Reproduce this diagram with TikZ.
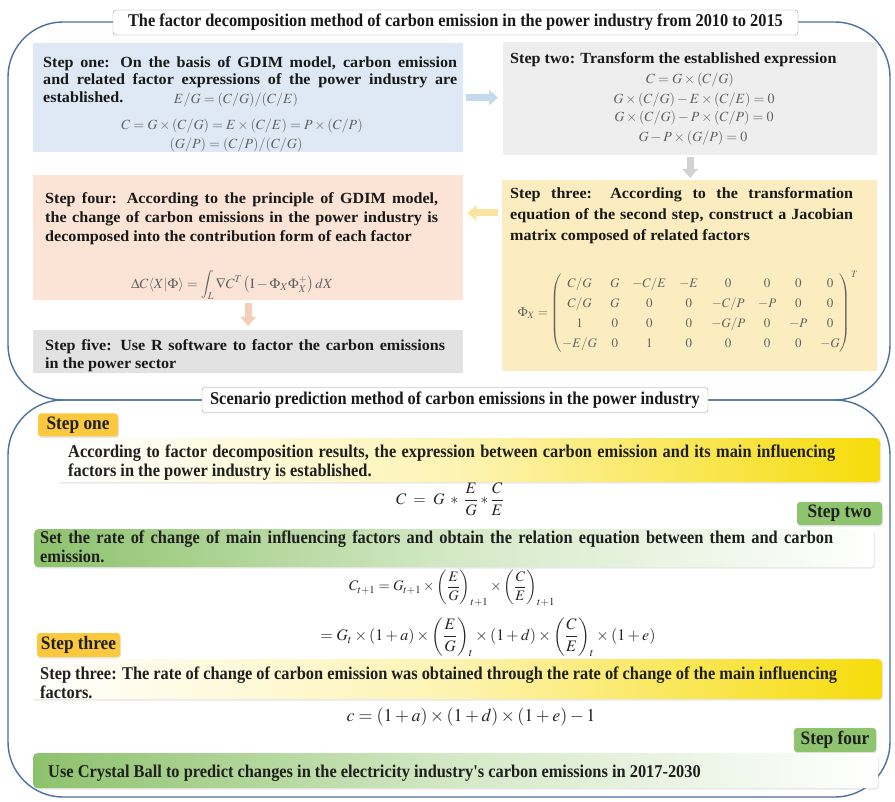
\documentclass[tikz,border=0pt]{standalone}
\usepackage{amsmath}
\usepackage{mathptmx}
\usepackage{fontspec}
\setmainfont{Liberation Serif}
\newfontfamily\condfont{Liberation Serif}[FakeStretch=0.91]
\newfontfamily\wfont{Liberation Serif}[FakeStretch=1.04]
\usetikzlibrary{arrows.meta,shadows}
\definecolor{frameblue}{HTML}{4D70A3}
\definecolor{sonecol}{HTML}{DFE9F5}
\definecolor{stwocol}{HTML}{EEEEEE}
\definecolor{sthreecol}{HTML}{FCEDC1}
\definecolor{sfourcol}{HTML}{FBE3D6}
\definecolor{sfivecol}{HTML}{E2E2E2}
\definecolor{arrblue}{HTML}{C4D8EE}
\definecolor{arrgrey}{HTML}{D2D2D2}
\definecolor{arryellow}{HTML}{F9E4A0}
\definecolor{arrpeach}{HTML}{F5CDB9}
\definecolor{tagyellow}{HTML}{FBC83E}
\definecolor{taggreen}{HTML}{8FC46E}
\definecolor{baryellow}{HTML}{F6DC0A}
\definecolor{barpale}{HTML}{FDF3B0}
\definecolor{bargreen}{HTML}{8DC26C}
\definecolor{barpalegreen}{HTML}{D4E9C6}
\tikzset{
  frame/.style={draw=frameblue, line width=1.4pt, rounded corners=55pt},
  titlebox/.style={draw=black!40, fill=white, rounded corners=3pt, inner sep=0pt, minimum height=25pt, font=\condfont\bfseries\fontsize{18}{20}\selectfont, text=black!90},
  stepbox/.style={rectangle, inner sep=0pt, anchor=north west},
  toptext/.style={anchor=north west, inner sep=0pt, align=justify, text=black!90},
  topeq/.style={inner sep=0pt, text=black!62, font=\fontsize{14}{16}\selectfont},
  flowarrow/.style={-{Triangle[width=15pt,length=9pt]}, line width=7pt},
  bar/.style={rectangle, rounded corners=4pt, inner sep=0pt, anchor=north west, drop shadow={opacity=0.18, shadow xshift=1pt, shadow yshift=-1.5pt}},
  bartext/.style={anchor=north west, inner sep=0pt, align=justify, font=\condfont\bfseries\fontsize{18}{19}\selectfont, text=black!88},
  tag/.style={rectangle, rounded corners=3pt, inner sep=0pt, font=\condfont\bfseries\fontsize{19}{20}\selectfont, text=black!88, drop shadow={opacity=0.18, shadow xshift=1pt, shadow yshift=-1.5pt}},
  boteq/.style={inner sep=0pt, text=black!85, font=\fontsize{17}{19}\selectfont},
}
\begin{document}
\begin{tikzpicture}[x=1pt,y=-1pt]
\useasboundingbox (0,0) rectangle (895,802);
\fill[white] (0,0) rectangle (895,802);
% frames
\draw[frame] (8,22) rectangle (890,400);
\draw[frame] (8,400) rectangle (890,797);
% titles
\node[titlebox, minimum width=685pt] (t1) at (455.5,22.5) {The factor decomposition method of carbon emission in the power industry from 2010 to 2015};
\node[titlebox, minimum width=506pt] (t2) at (455,400) {Scenario prediction method of carbon emissions in the power industry};
% step boxes
\node[stepbox, fill=sonecol, minimum width=430pt, minimum height=109pt] (s1) at (33,43) {};
\node[stepbox, fill=stwocol, minimum width=374pt, minimum height=113pt] (s2) at (503,42) {};
\node[stepbox, fill=sthreecol, minimum width=375pt, minimum height=191pt] (s3) at (502,180) {};
\node[stepbox, fill=sfourcol, minimum width=430pt, minimum height=125pt] (s4) at (33,175) {};
\node[stepbox, fill=sfivecol, minimum width=430pt, minimum height=43pt] (s5) at (33,330) {};
% step texts
\node[toptext, text width=414pt, font=\wfont\bfseries\fontsize{15.5}{17.2}\selectfont] (s1t) at (43,56.5)
 {Step one: On the basis of GDIM model, carbon emission\linebreak and related factor expressions of the power industry are\linebreak established.};
\node[topeq] (s1a) at (236,100) {$E/G=(C/G)/(C/E)$};
\node[topeq] (s1b) at (242,126.5) {$C=G\times(C/G)=E\times(C/E)=P\times(C/P)$};
\node[topeq] (s1c) at (236,145) {$(G/P)=(C/P)/(C/G)$};
\node[toptext, font=\wfont\bfseries\fontsize{15.5}{17.2}\selectfont] (s2t) at (510,52.5)
 {Step two: Transform the established expression};
\node[topeq] (s2a) at (690,80) {$C=G\times(C/G)$};
\node[topeq] (s2b) at (694,100) {$G\times(C/G)-E\times(C/E)=0$};
\node[topeq] (s2c) at (694,118.5) {$G\times(C/G)-P\times(C/P)=0$};
\node[topeq] (s2d) at (693,138.5) {$G-P\times(G/P)=0$};
\node[toptext, text width=343pt, font=\wfont\bfseries\fontsize{15.5}{20.8}\selectfont] (s3t) at (510,187.5)
 {Step three: According to the transformation\linebreak equation of the second step, construct a Jacobian\linebreak matrix composed of related factors};
\node[inner sep=0pt, text=black!62, font=\fontsize{13}{15.6}\selectfont] (s3m) at (688,312)
 {$\Phi_X=\renewcommand{\arraystretch}{1.28}\setlength{\arraycolsep}{6.5pt}\begin{pmatrix}
 C/G & G & -C/E & -E & 0 & 0 & 0 & 0\\
 C/G & G & 0 & 0 & -C/P & -P & 0 & 0\\
 1 & 0 & 0 & 0 & -G/P & 0 & -P & 0\\
 -E/G & 0 & 1 & 0 & 0 & 0 & 0 & -G
 \end{pmatrix}^{T}$};
\node[toptext, text width=393pt, font=\wfont\bfseries\fontsize{15.5}{18.8}\selectfont] (s4t) at (45,192.5)
 {Step four: According to the principle of GDIM model,\linebreak the change of carbon emissions in the power industry is\linebreak decomposed into the contribution form of each factor};
\node[topeq] (s4f) at (232,285) {$\Delta C\langle X|\Phi\rangle=\displaystyle\int_{L}\nabla C^{T}\left(\mathrm{I}-\Phi_X\Phi_X^{+}\right)dX$};
\node[toptext, text width=400pt, font=\wfont\bfseries\fontsize{15.5}{18}\selectfont] (s5t) at (45,339)
 {Step five: Use R software to factor the carbon emissions\linebreak in the power sector};
% flow arrows
\draw[flowarrow, draw=arrblue, shorten <=3pt, shorten >=5pt] (s1.east) -- (s1.east -| s2.west);
\draw[flowarrow, draw=arrgrey, shorten <=2pt, shorten >=2pt] (s2.south) -- (s2.south |- s3.north);
\draw[flowarrow, draw=arryellow, shorten <=4pt, shorten >=4pt] ([yshift=-33pt]s3.north west) -- ([yshift=-33pt]s3.north west -| s4.east);
\draw[flowarrow, draw=arrpeach, shorten <=3pt, shorten >=4pt] (s4.south) -- (s4.south |- s5.north);
% bottom section
\node[tag, fill=tagyellow, minimum width=80pt, minimum height=23pt] (g1) at (78,425) {Step one};
\node[bar, left color=white, right color=baryellow, middle color=barpale, minimum width=823pt, minimum height=44pt] (b1) at (57,438) {};
\node[bartext, text width=767pt] (b1t) at (68,444.5) {According to factor decomposition results, the expression between carbon emission and its main influencing\linebreak factors in the power industry is established.};
\node[boteq, font=\fontsize{16}{18}\selectfont] (f1) at (450,499) {$C\;=\;G\;*\;\dfrac{E}{G}*\dfrac{C}{E}$};
\node[tag, fill=taggreen, minimum width=85pt, minimum height=23pt] (g2) at (839.5,513.5) {Step two};
\node[bar, left color=bargreen, right color=white, middle color=barpalegreen, minimum width=840pt, minimum height=38pt] (b2) at (34,529) {};
\node[bartext, text width=793pt] (b2t) at (40,530.5) {Set the rate of change of main influencing factors and obtain the relation equation between them and carbon\linebreak emission.};
\node[boteq, font=\fontsize{14.5}{17}\selectfont] (f2a) at (452,588) {$C_{t+1}=G_{t+1}\times\left(\dfrac{E}{G}\right)_{t+1}\times\left(\dfrac{C}{E}\right)_{t+1}$};
\node[boteq, font=\fontsize{16}{18}\selectfont] (f2b) at (488,637) {$=G_t\times(1+a)\times\left(\dfrac{E}{G}\right)_t\times(1+d)\times\left(\dfrac{C}{E}\right)_t\times(1+e)$};
\node[tag, fill=tagyellow, minimum width=83pt, minimum height=24pt] (g3) at (78.5,645) {Step three};
\node[bar, left color=white, right color=baryellow, middle color=barpale, minimum width=851pt, minimum height=40pt] (b3) at (31,659) {};
\node[bartext, text width=797pt] (b3t) at (40,666.5) {Step three: The rate of change of carbon emission was obtained through the rate of change of the main influencing\linebreak factors.};
\node[boteq, font=\fontsize{18}{20}\selectfont] (f3) at (471,717) {$c=(1+a)\times(1+d)\times(1+e)-1$};
\node[tag, fill=taggreen, minimum width=82pt, minimum height=24pt] (g4) at (835,740) {Step four};
\node[bar, left color=bargreen, right color=white, middle color=barpalegreen, minimum width=845pt, minimum height=35pt] (b4) at (33,753) {};
\node[bartext, anchor=base west] (b4t) at (48,777) {Use Crystal Ball to predict changes in the electricity industry's carbon emissions in 2017-2030};
\end{tikzpicture}
\end{document}
